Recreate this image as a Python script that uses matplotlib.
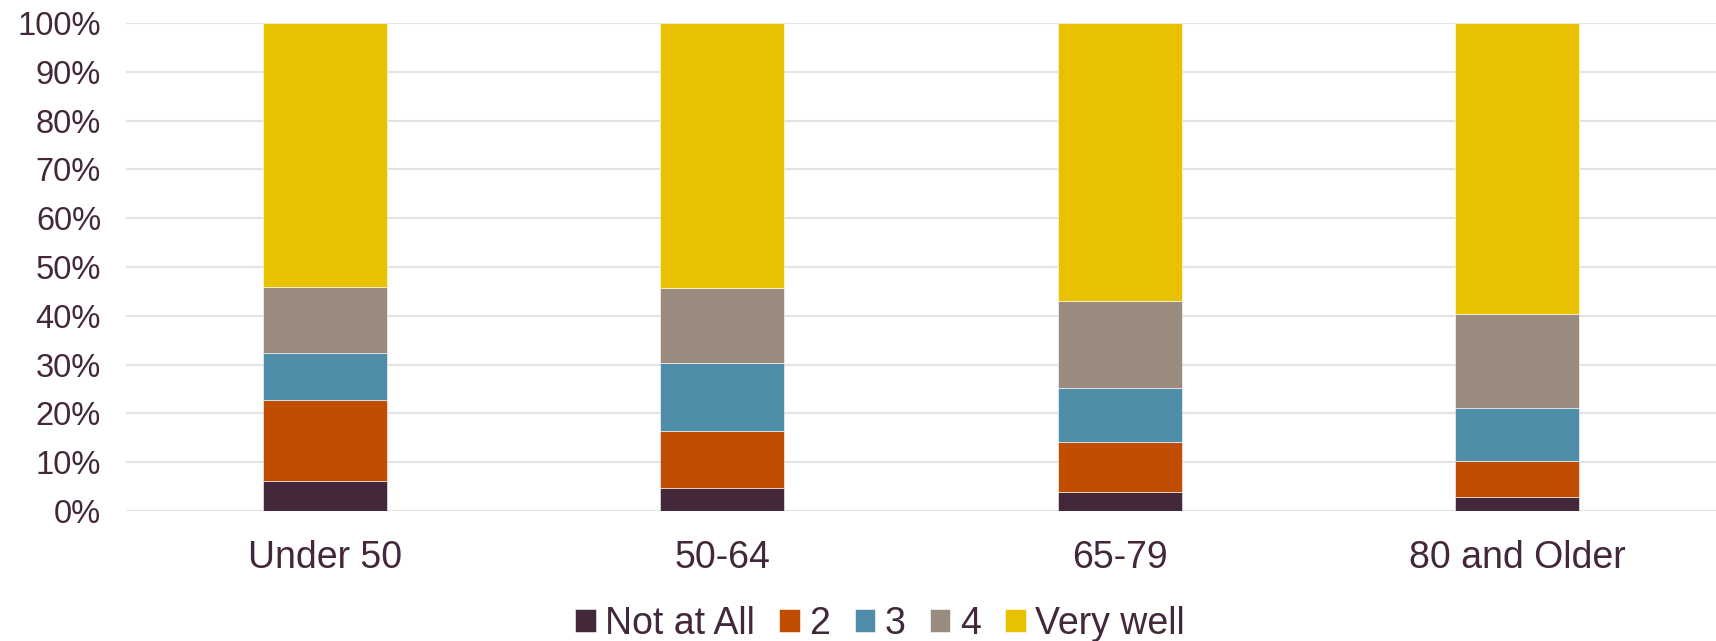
import matplotlib
matplotlib.use("Agg")
import matplotlib.pyplot as plt
import numpy as np
from matplotlib.ticker import FuncFormatter

plt.rcParams['font.family'] = ['Liberation Sans', 'DejaVu Sans']

categories = ["Under 50", "50-64", "65-79", "80 and Older"]
series_names = ["Not at All", "2", "3", "4", "Very well"]
not_at_all = [6.1, 4.7, 3.9, 2.9]
s2 = [16.6, 11.7, 10.3, 7.3]
s3 = [9.7, 13.9, 11.0, 10.9]
s4 = [13.4, 15.4, 17.9, 19.2]
very_well = [54.2, 54.3, 56.9, 59.7]
series_values = [not_at_all, s2, s3, s4, very_well]
colors = ["#43273A", "#C04D00", "#4F8DA9", "#998B7D", "#E8C200"]
text_color = "#43273A"

W, H = 1716, 641
fig = plt.figure(figsize=(W / 100, H / 100), dpi=100)
ax = fig.add_axes([126 / W, (H - 511) / H, 1 - 126 / W, (511 - 23) / H])

x = np.arange(len(categories))
bottom = np.zeros(len(categories))
for name, vals, c in zip(series_names, series_values, colors):
    ax.bar(x, vals, width=0.312, bottom=bottom, color=c, label=name,
           edgecolor="#FFFFFF", linewidth=0.4, zorder=3)
    bottom += np.array(vals)

ax.set_xlim(-0.5, len(categories) - 0.5)
ax.set_ylim(0, 100)
ax.set_yticks(np.arange(0, 101, 10))
ax.yaxis.set_major_formatter(FuncFormatter(lambda v, p: f"{int(v)}%"))
ax.set_xticks(x)
ax.set_xticklabels(categories)
ax.grid(axis='y', color="#E3E3E3", linewidth=1.5, zorder=0)
ax.set_axisbelow(True)
for s in ax.spines.values():
    s.set_visible(False)
ax.tick_params(axis='y', length=0, pad=18, labelsize=23.5, labelcolor=text_color)
ax.tick_params(axis='x', length=0, pad=21, labelsize=27, labelcolor=text_color)

handles, labels = ax.get_legend_handles_labels()
fig.legend(handles, labels, loc='center', bbox_to_anchor=(880 / W, (H - 624) / H),
           ncol=5, frameon=False, fontsize=27, labelcolor=text_color,
           handlelength=0.55, handleheight=0.55, handletextpad=0.25,
           columnspacing=0.65, borderaxespad=0, borderpad=0)

fig.savefig("out.png", dpi=100)
